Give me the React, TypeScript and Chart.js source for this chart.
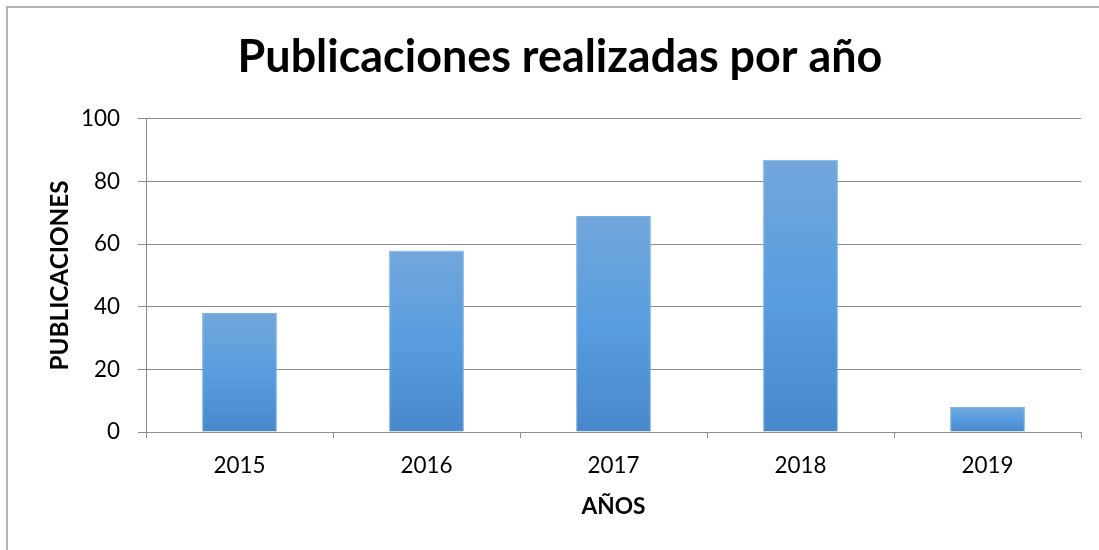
import { useEffect, useRef } from "react";
import { Chart, registerables } from "chart.js";

Chart.register(...registerables);

// ---- data ----
const categories = ["2015", "2016", "2017", "2018", "2019"];
const publicaciones = [38, 58, 69, 87, 8];
const yTickValues = [0, 20, 40, 60, 80, 100];
const chartTitle = "Publicaciones realizadas por año";
const xAxisTitle = "AÑOS";
const yAxisTitle = "PUBLICACIONES";

const FAMILY = "Lato, 'Open Sans', sans-serif";

function fitSize(text: string, weight: string, target: number): number {
  const c = document.createElement("canvas").getContext("2d")!;
  c.font = `${weight} 100px ${FAMILY}`;
  const w = c.measureText(text).width || 100;
  return (100 * target) / w;
}

const borderPlugin = {
  id: "frameBorder",
  beforeDraw(chart: any) {
    const c = chart.ctx;
    c.save();
    c.fillStyle = "#ffffff";
    c.fillRect(0, 0, chart.width, chart.height);
    c.strokeStyle = "#b3b3b3";
    c.lineWidth = 2;
    c.beginPath();
    c.moveTo(7, chart.height + 2);
    c.lineTo(7, 7);
    c.lineTo(chart.width + 2, 7);
    c.stroke();
    c.restore();
  },
};

export default function App() {
  const ref = useRef<HTMLCanvasElement>(null);

  useEffect(() => {
    if (!ref.current) return;
    const titleSize = fitSize(chartTitle, "bold", 645);
    const yTitleSize = fitSize(yAxisTitle, "bold", 190);
    const xTitleSize = fitSize(xAxisTitle, "bold", 64);
    const tickSize = fitSize("2015", "normal", 52);

    const titleLH = titleSize * 1.2;
    const yTitleLH = yTitleSize * 1.2;
    const xTitleLH = xTitleSize * 1.2;

    const padLeft = 39;
    const padRight = 18;
    const padTop = 58 - titleLH / 2;
    const plotTop = 119;
    const plotBottom = 432;
    const plotLeft = 146;

    const grey = "#8c8c8c";

    const chart = new Chart(ref.current, {
      type: "bar",
      data: {
        labels: categories,
        datasets: [
          {
            label: yAxisTitle,
            data: publicaciones,
            backgroundColor: (ctx: any) => {
              const ch = ctx.chart;
              const y = ch.scales && ch.scales.y;
              if (!ch.chartArea || !y || ctx.type !== "data") return "#5b9bd5";
              const top = y.getPixelForValue(ctx.raw);
              const bot = y.getPixelForValue(0);
              const g = ch.ctx.createLinearGradient(0, top, 0, bot);
              g.addColorStop(0, "#72a7dc");
              g.addColorStop(0.5, "#589ddf");
              g.addColorStop(1, "#4888ca");
              return g;
            },
            borderColor: "#7cb2e6",
            borderWidth: 1,
            categoryPercentage: 1,
            barPercentage: 0.4,
          },
        ],
      },
      options: {
        responsive: false,
        animation: false,
        layout: {
          padding: { left: padLeft, right: padRight, top: padTop, bottom: 0 },
        },
        plugins: {
          legend: { display: false },
          tooltip: { enabled: false },
          title: {
            display: true,
            text: chartTitle,
            color: "#000000",
            font: { family: FAMILY, size: titleSize, weight: "bold", lineHeight: 1.2 },
            padding: { top: 0, bottom: plotTop - 58 - titleLH / 2 },
          },
        },
        scales: {
          x: {
            offset: true,
            grid: {
              offset: true,
              drawOnChartArea: false,
              drawTicks: true,
              tickLength: 6,
              color: grey,
            },
            border: { display: true, color: grey, width: 1 },
            ticks: {
              color: "#000000",
              font: { family: FAMILY, size: tickSize },
              padding: 14,
            },
            title: {
              display: true,
              text: xAxisTitle,
              color: "#000000",
              font: { family: FAMILY, size: xTitleSize, weight: "bold", lineHeight: 1.2 },
              padding: { top: 0, bottom: 550 - 507 - xTitleLH / 2 },
            },
            afterFit: (scale: any) => {
              scale.height = 550 - plotBottom;
            },
          },
          y: {
            min: 0,
            max: 100,
            afterBuildTicks: (scale: any) => {
              scale.ticks = yTickValues.map((v) => ({ value: v }));
            },
            grid: {
              color: grey,
              drawTicks: true,
              tickLength: 8,
            },
            border: { display: true, color: grey, width: 1 },
            ticks: {
              color: "#000000",
              font: { family: FAMILY, size: tickSize },
              padding: 18,
            },
            title: {
              display: true,
              text: yAxisTitle,
              color: "#000000",
              font: { family: FAMILY, size: yTitleSize, weight: "bold", lineHeight: 1.2 },
              padding: { top: 60 - padLeft - yTitleLH / 2, bottom: 0 },
            },
            afterFit: (scale: any) => {
              scale.width = plotLeft - padLeft;
            },
          },
        },
      },
      plugins: [borderPlugin],
    });
    return () => chart.destroy();
  }, []);

  return (
    <div style={{ position: "absolute", left: 0, top: 0, width: 1099, height: 550, background: "#fff" }}>
      <canvas ref={ref} width={1099} height={550} style={{ display: "block" }} />
    </div>
  );
}
